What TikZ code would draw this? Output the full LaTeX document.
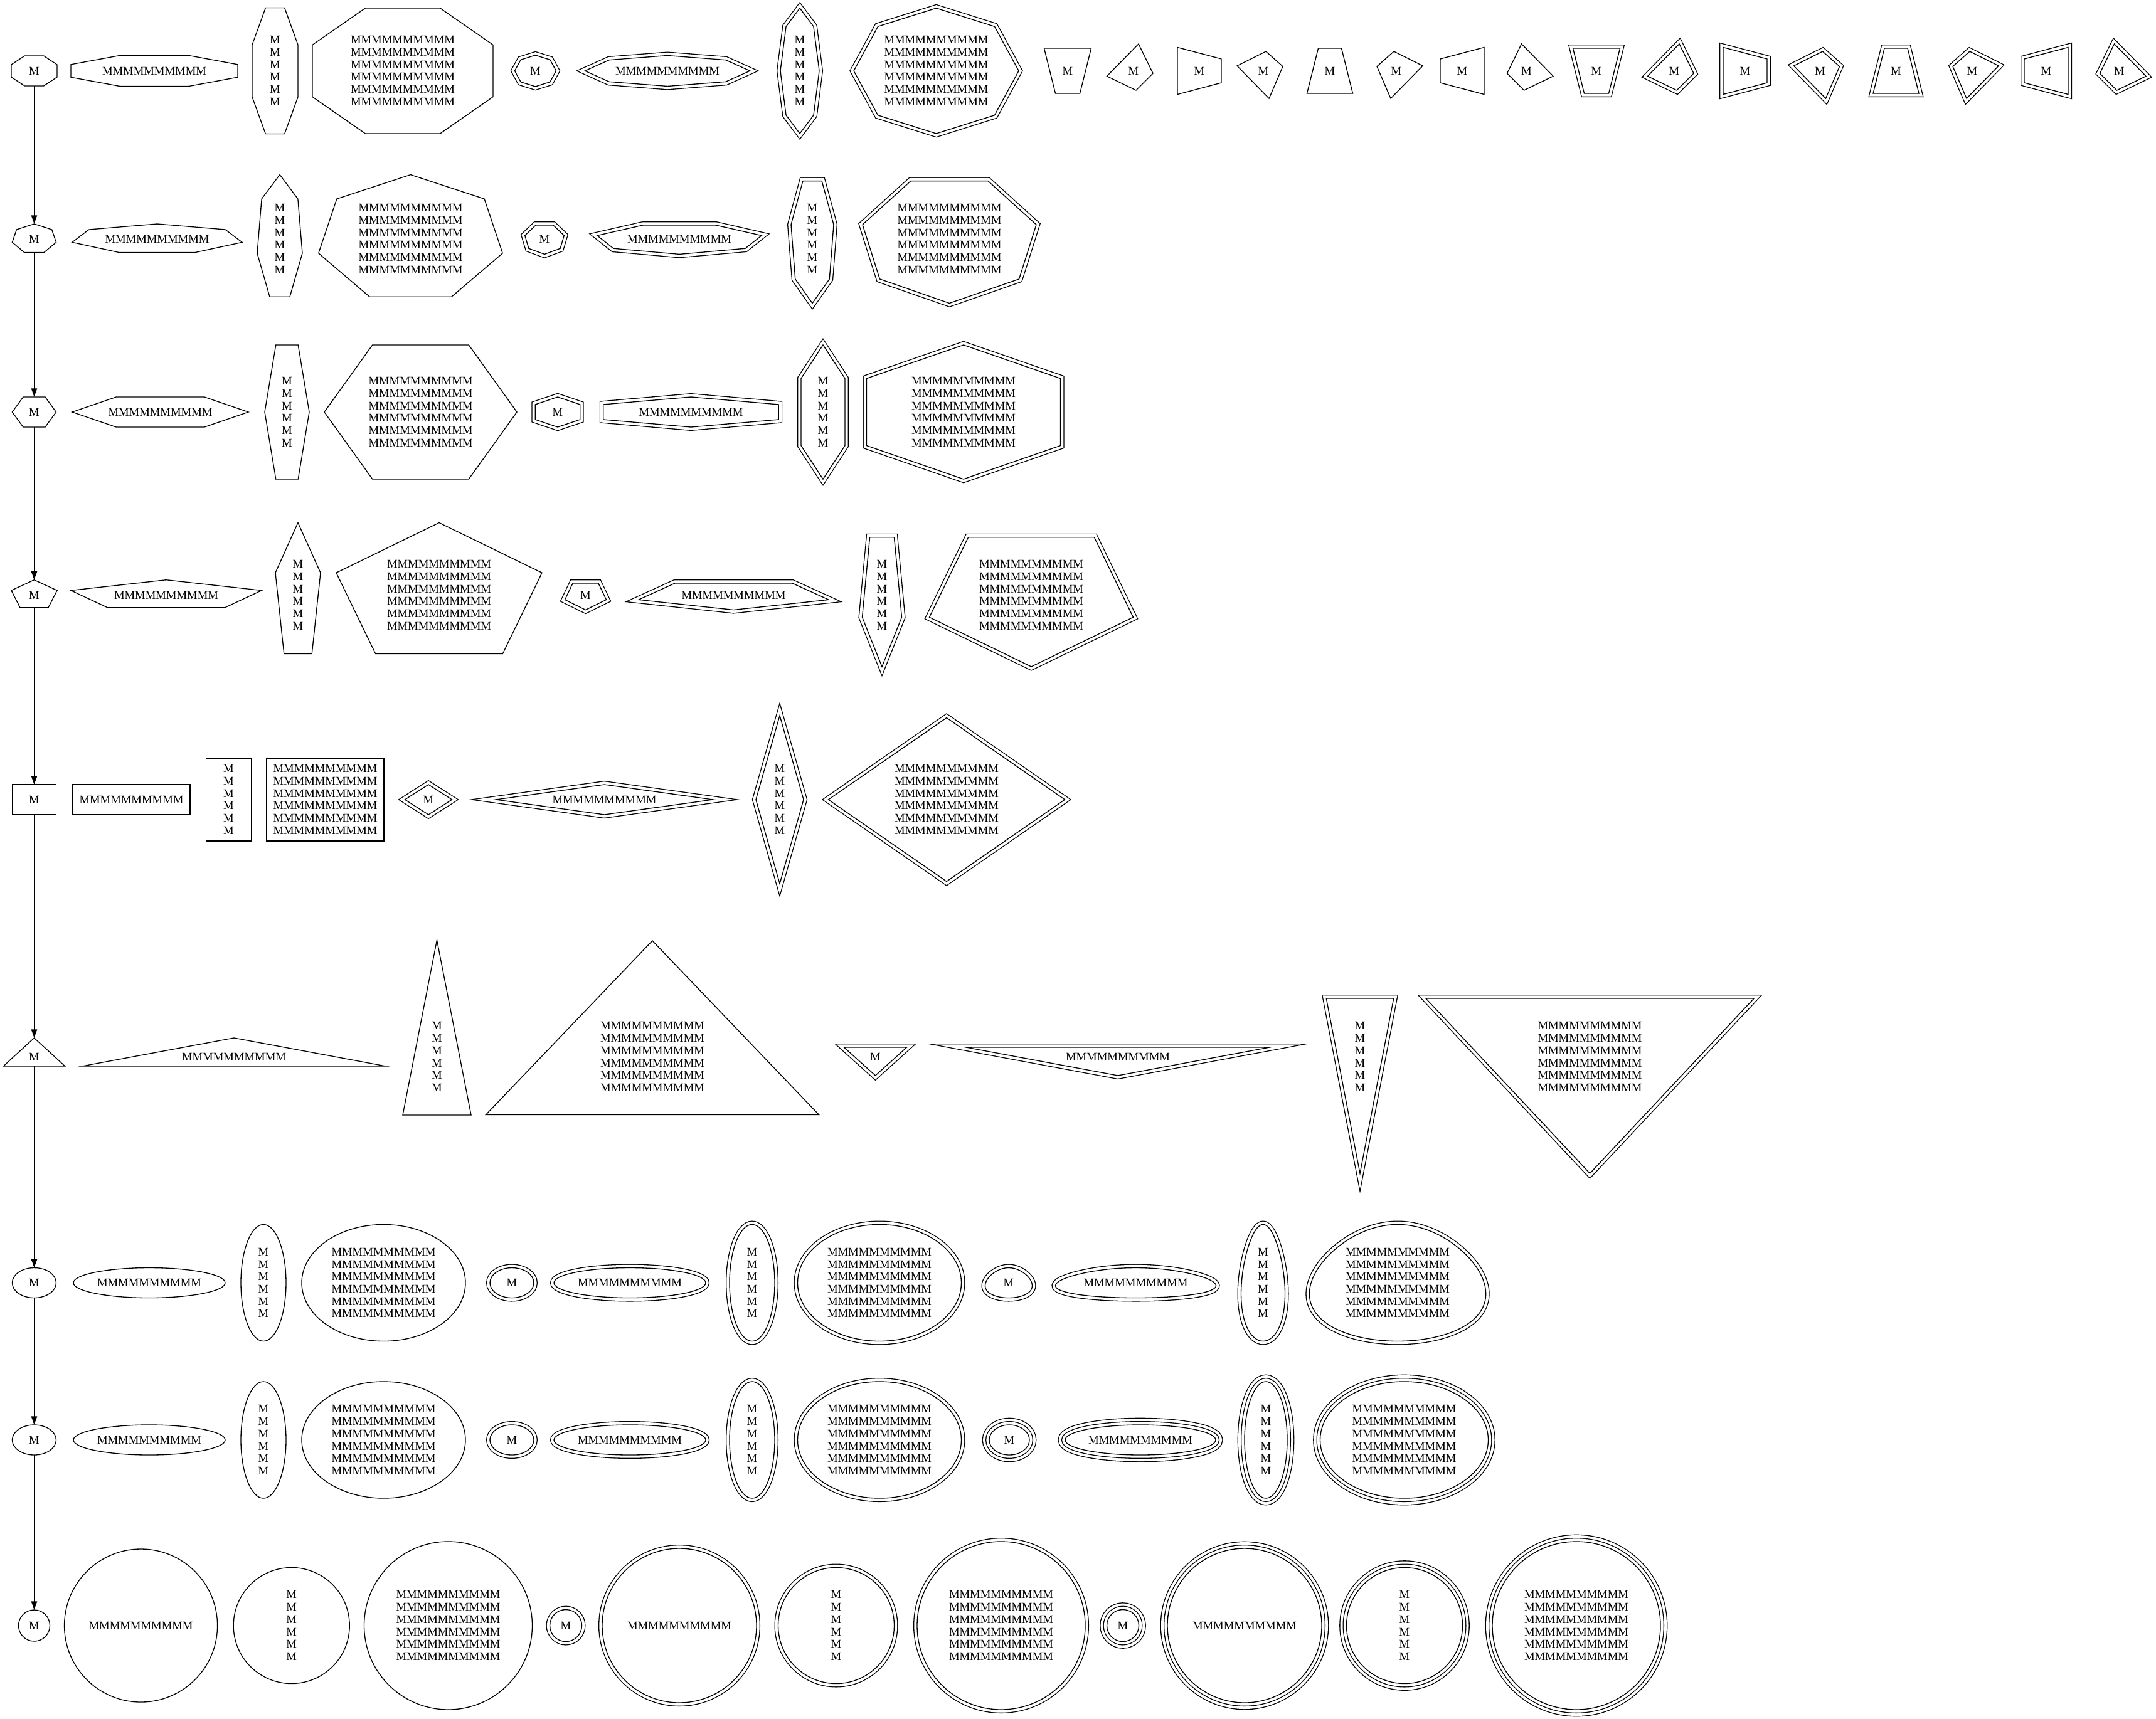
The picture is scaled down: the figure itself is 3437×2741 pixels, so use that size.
\documentclass[tikz,border=0pt]{standalone}
\usepackage{fontspec}
\setmainfont{Liberation Serif}
\usetikzlibrary{arrows.meta}
\newcommand\gvfont{\fontsize{14}{14.8}\selectfont}
\def\Ms{MMMMMMMMMM}
\def\tM{M\\M\\M\\M\\M\\M}
\def\bM{\Ms\\\Ms\\\Ms\\\Ms\\\Ms\\\Ms}
% normalized outlines (y up)
\def\pOctA{(1,.4142)--(.4142,1)--(-.4142,1)--(-1,.4142)--(-1,-.4142)--(-.4142,-1)--(.4142,-1)--(1,-.4142)--cycle}
\def\pOctB{(1,0)--(.7071,.7071)--(0,1)--(-.7071,.7071)--(-1,0)--(-.7071,-.7071)--(0,-1)--(.7071,-.7071)--cycle}
\def\pHepA{(0,1)--(-.8019,.6235)--(-1,-.2225)--(-.4451,-.9010)--(.4451,-.9010)--(1,-.2225)--(.8019,.6235)--cycle}
\def\pHepB{(0,-1)--(-.8019,-.6235)--(-1,.2225)--(-.4451,.9010)--(.4451,.9010)--(1,.2225)--(.8019,-.6235)--cycle}
\def\pHexA{(1,0)--(.5,1)--(-.5,1)--(-1,0)--(-.5,-1)--(.5,-1)--cycle}
\def\pHexB{(1,.5)--(0,1)--(-1,.5)--(-1,-.5)--(0,-1)--(1,-.5)--cycle}
\def\pPenA{(0,1)--(-1,.309)--(-.618,-.809)--(.618,-.809)--(1,.309)--cycle}
\def\pPenB{(0,-1)--(-1,-.309)--(-.618,.809)--(.618,.809)--(1,-.309)--cycle}
\def\pBox{(1,1)--(-1,1)--(-1,-1)--(1,-1)--cycle}
\def\pDia{(1,0)--(0,1)--(-1,0)--(0,-1)--cycle}
\def\pTriA{(0,1)--(-1,-.5)--(1,-.5)--cycle}
\def\pTriB{(0,-1)--(-1,.5)--(1,.5)--cycle}
\def\pEll{(0,0) circle[radius=1]}
\def\pEgg{plot[domain=0:355,samples=72,smooth cycle] ({cos(\x)*(1.044-0.212*sin(\x))/1.0647},{sin(\x)})}
% small quadrilaterals (pixel offsets, y up)
\def\pSa{(-37.5,36)--(37.5,36)--(19.5,-36)--(-19.5,-36)--cycle}
\def\pSb{(8,43)--(31,-4)--(4,-31)--(-42.5,-8.5)--cycle}
\def\pSc{(-35,37.5)--(35,19)--(35,-19)--(-35,-37.5)--cycle}
\def\pSd{(4,31)--(31,7)--(9,-44)--(-42,8)--cycle}
\def\pSe{(-18.5,36)--(18.5,36)--(36.5,-36)--(-36.5,-36)--cycle}
\def\pSf{(-4,31)--(42,8)--(-9,-44)--(-31,7)--cycle}
\def\pSg{(-35,19)--(35,37.5)--(35,-37.5)--(-35,-19)--cycle}
\def\pSh{(-8,43)--(42.5,-8.5)--(-4,-31)--(-31,-4)--cycle}
% #1 name #2 cx #3 cy #4 W #5 H #6 outline #7 peripheries #8 text
\newcommand\gv[8]{%
\begin{scope}[shift={(#2,#3)},xscale=#4,yscale=-#5]
\ifnum#7>2 \draw[line width=17pt] #6; \draw[white,line width=15pt] #6; \fi
\ifnum#7>1 \draw[line width=9pt] #6; \draw[white,line width=7pt] #6; \fill[white] #6; \fi
\draw[line width=1pt] #6;
\end{scope}
\node[lab,minimum width={2*#4*0.75pt},minimum height={2*#5*0.75pt}] (#1) at (#2,#3) {#8};}
\tikzset{lab/.style={inner sep=0pt,align=center,font=\gvfont},
conn/.style={line width=1pt,-{Triangle[length=10pt,width=7pt]}}}
\begin{document}
\begin{tikzpicture}[x=0.75pt,y=-0.75pt,line join=miter,miter limit=25]
\useasboundingbox (0,0) rectangle (3437,2741);
% row 1
\gv{R1a}{54.5}{113}{36.5}{24}{\pOctA}{1}{M}
\gv{R1b}{246}{113}{133}{24.5}{\pOctA}{1}{\Ms}
\gv{R1c}{438.5}{113}{36.5}{100.5}{\pOctA}{1}{\tM}
\gv{R1d}{642}{113}{144}{100}{\pOctA}{1}{\bM}
\gv{R1e}{853.5}{113}{33}{25}{\pOctB}{2}{M}
\gv{R1f}{1064}{113}{131.5}{24.5}{\pOctB}{2}{\Ms}
\gv{R1g}{1275}{113}{31}{100}{\pOctB}{2}{\tM}
\gv{R1h}{1492.5}{113}{131.5}{100}{\pOctB}{2}{\bM}
\gv{S1}{1702}{113}{1}{1}{\pSa}{1}{M}
\gv{S2}{1807}{113}{1}{1}{\pSb}{1}{M}
\gv{S3}{1912}{113}{1}{1}{\pSc}{1}{M}
\gv{S4}{2014}{113}{1}{1}{\pSd}{1}{M}
\gv{S5}{2120}{113}{1}{1}{\pSe}{1}{M}
\gv{S6}{2226}{113}{1}{1}{\pSf}{1}{M}
\gv{S7}{2331}{113}{1}{1}{\pSg}{1}{M}
\gv{S8}{2433.5}{113}{1}{1}{\pSh}{1}{M}
\gv{S9}{2545}{113}{1}{1}{\pSa}{2}{M}
\gv{S10}{2669}{113}{1}{1}{\pSb}{2}{M}
\gv{S11}{2782}{113}{1}{1}{\pSc}{2}{M}
\gv{S12}{2901.5}{113}{1}{1}{\pSd}{2}{M}
\gv{S13}{3022.5}{113}{1}{1}{\pSe}{2}{M}
\gv{S14}{3144}{113}{1}{1}{\pSf}{2}{M}
\gv{S15}{3262}{113}{1}{1}{\pSg}{2}{M}
\gv{S16}{3378.5}{113}{1}{1}{\pSh}{2}{M}
% row 2
\gv{R2a}{54.5}{381}{35}{24}{\pHepA}{1}{M}
\gv{R2b}{250.5}{381}{135.5}{24}{\pHepA}{1}{\Ms}
\gv{R2c}{446}{381}{36}{102.4}{\pHepA}{1}{\tM}
\gv{R2d}{654.5}{381}{146.7}{102.4}{\pHepA}{1}{\bM}
\gv{R2e}{868}{381}{31.3}{24.4}{\pHepB}{2}{M}
\gv{R2f}{1083}{381}{131}{24.4}{\pHepB}{2}{\Ms}
\gv{R2g}{1295}{381}{34}{102.5}{\pHepB}{2}{\tM}
\gv{R2h}{1513.5}{381}{138.5}{102.5}{\pHepB}{2}{\bM}
% row 3
\gv{R3a}{54.5}{657}{35}{24}{\pHexA}{1}{M}
\gv{R3b}{255.5}{657}{140.5}{24}{\pHexA}{1}{\Ms}
\gv{R3c}{457.5}{657}{35.5}{107}{\pHexA}{1}{\tM}
\gv{R3d}{670.5}{657}{153.5}{107}{\pHexA}{1}{\bM}
\gv{R3e}{889}{657}{35.7}{24}{\pHexB}{2}{M}
\gv{R3f}{1101.5}{657}{139.7}{24}{\pHexB}{2}{\Ms}
\gv{R3g}{1312}{657}{35}{107}{\pHexB}{2}{\tM}
\gv{R3h}{1536}{657}{154.6}{107}{\pHexB}{2}{\bM}
% row 4
\gv{R4a}{54.5}{949}{36.5}{24.3}{\pPenA}{1}{M}
\gv{R4b}{265}{949}{152}{24.3}{\pPenA}{1}{\Ms}
\gv{R4c}{475}{949}{36}{115.5}{\pPenA}{1}{\tM}
\gv{R4d}{700}{949}{164}{115.5}{\pPenA}{1}{\bM}
\gv{R4e}{933.5}{949}{33}{23.5}{\pPenB}{2}{M}
\gv{R4f}{1169.5}{949}{151.5}{23.5}{\pPenB}{2}{\Ms}
\gv{R4g}{1406}{949}{31.5}{114}{\pPenB}{2}{\tM}
\gv{R4h}{1644}{949}{162.5}{114}{\pPenB}{2}{\bM}
% row 5
\gv{R5a}{54.5}{1275}{35}{24}{\pBox}{1}{M}
\gv{R5b}{209.5}{1275}{93.5}{24}{\pBox}{1}{\Ms}
\gv{R5c}{364.5}{1275}{36}{66}{\pBox}{1}{\tM}
\gv{R5d}{518.5}{1275}{93.5}{66}{\pBox}{1}{\bM}
\gv{R5e}{683}{1275}{37.5}{24}{\pDia}{2}{M}
\gv{R5f}{963.5}{1275}{173}{24}{\pDia}{2}{\Ms}
\gv{R5g}{1243}{1275}{38}{134}{\pDia}{2}{\tM}
\gv{R5h}{1509}{1275}{188.5}{130.5}{\pDia}{2}{\bM}
% row 6
\gv{R6a}{54.5}{1685}{49}{30}{\pTriA}{1}{M}
\gv{R6b}{373}{1685}{241.7}{30}{\pTriA}{1}{\Ms}
\gv{R6c}{696.5}{1685}{54.5}{186}{\pTriA}{1}{\tM}
\gv{R6d}{1040}{1685}{265.5}{185}{\pTriA}{1}{\bM}
\gv{R6e}{1395.5}{1685}{50}{30}{\pTriB}{2}{M}
\gv{R6f}{1782}{1685}{241.8}{30}{\pTriB}{2}{\Ms}
\gv{R6g}{2168}{1685}{53.7}{186}{\pTriB}{2}{\tM}
\gv{R6h}{2534.5}{1685}{261.5}{186}{\pTriB}{2}{\bM}
% row 7
\gv{R7a}{54.5}{2045.5}{35}{24}{\pEll}{1}{M}
\gv{R7b}{238}{2045.5}{121}{24}{\pEll}{1}{\Ms}
\gv{R7c}{420}{2045.5}{36}{93}{\pEll}{1}{\tM}
\gv{R7d}{611.5}{2045.5}{130.5}{93}{\pEll}{1}{\bM}
\gv{R7e}{816}{2045.5}{35}{24}{\pEll}{2}{M}
\gv{R7f}{1004}{2045.5}{121}{24}{\pEll}{2}{\Ms}
\gv{R7g}{1199}{2045.5}{36}{93}{\pEll}{2}{\tM}
\gv{R7h}{1402}{2045.5}{130.5}{93}{\pEll}{2}{\bM}
\gv{R7i}{1608}{2045.5}{37.5}{24}{\pEgg}{2}{M}
\gv{R7j}{1810.5}{2045.5}{128}{24}{\pEgg}{2}{\Ms}
\gv{R7k}{2013.5}{2045.5}{35}{93}{\pEgg}{2}{\tM}
\gv{R7l}{2228}{2045.5}{140.7}{93}{\pEgg}{2}{\bM}
% row 8
\gv{R8a}{54.5}{2296}{35}{24}{\pEll}{1}{M}
\gv{R8b}{238}{2296}{121}{24}{\pEll}{1}{\Ms}
\gv{R8c}{420}{2296}{36}{93}{\pEll}{1}{\tM}
\gv{R8d}{611.5}{2296}{130.5}{93}{\pEll}{1}{\bM}
\gv{R8e}{816}{2296}{35}{24}{\pEll}{2}{M}
\gv{R8f}{1004}{2296}{121}{24}{\pEll}{2}{\Ms}
\gv{R8g}{1199}{2296}{36}{93}{\pEll}{2}{\tM}
\gv{R8h}{1402}{2296}{130.5}{93}{\pEll}{2}{\bM}
\gv{R8i}{1609}{2296}{32}{24}{\pEll}{3}{M}
\gv{R8j}{1818}{2296}{120}{24}{\pEll}{3}{\Ms}
\gv{R8k}{2018}{2296}{34}{93}{\pEll}{3}{\tM}
\gv{R8l}{2238.5}{2296}{134}{93}{\pEll}{3}{\bM}
% row 9
\gv{R9a}{54.5}{2592}{25}{25}{\pEll}{1}{M}
\gv{R9b}{224.6}{2592}{122}{122}{\pEll}{1}{\Ms}
\gv{R9c}{464.7}{2592}{92.5}{92.5}{\pEll}{1}{\tM}
\gv{R9d}{714.5}{2592}{134}{134}{\pEll}{1}{\bM}
\gv{R9e}{902}{2592}{25.5}{25.5}{\pEll}{2}{M}
\gv{R9f}{1083}{2592}{123}{123}{\pEll}{2}{\Ms}
\gv{R9g}{1333}{2592}{92.5}{92.5}{\pEll}{2}{\tM}
\gv{R9h}{1596}{2592}{134}{134}{\pEll}{2}{\bM}
\gv{R9i}{1790}{2592}{25.5}{25.5}{\pEll}{3}{M}
\gv{R9j}{1984}{2592}{123}{123}{\pEll}{3}{\Ms}
\gv{R9k}{2239}{2592}{92.5}{92.5}{\pEll}{3}{\tM}
\gv{R9l}{2513}{2592}{134}{134}{\pEll}{3}{\bM}
% connectors
\draw[conn] (R1a.south) -- (R2a.north);
\draw[conn,shorten <=-1.8pt] (R2a.south) -- (R3a.north);
\draw[conn] (R3a.south) -- (R4a.north);
\draw[conn,shorten <=-3.5pt] (R4a.south) -- (R5a.north);
\draw[conn] (R5a.south) -- (R6a.north);
\draw[conn,shorten <=-11.25pt] (R6a.south) -- (R7a.north);
\draw[conn] (R7a.south) -- (R8a.north);
\draw[conn] (R8a.south) -- (R9a.north);
\end{tikzpicture}
\end{document}
